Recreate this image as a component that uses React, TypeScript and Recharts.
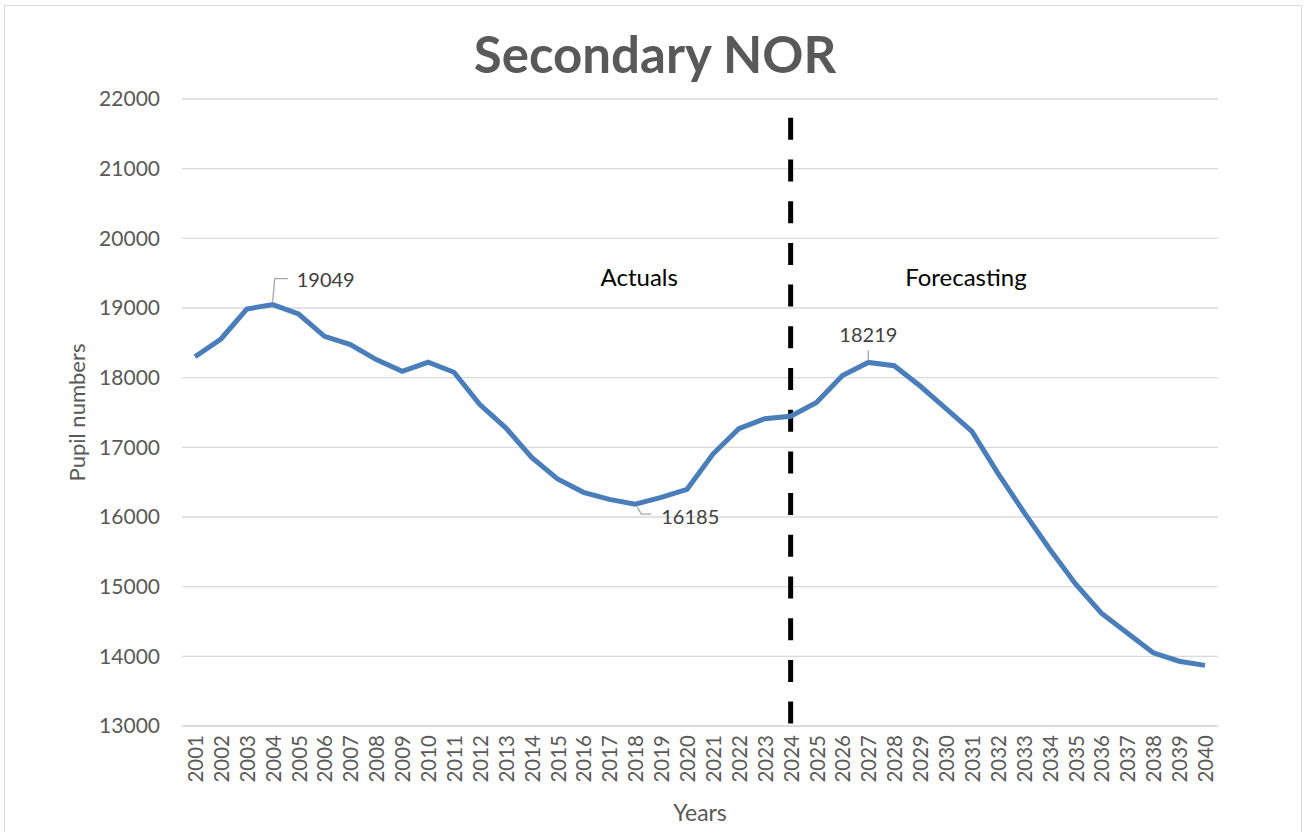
import React from "react";
import {
  CartesianGrid,
  Label,
  Line,
  LineChart,
  ReferenceDot,
  ReferenceLine,
  XAxis,
  YAxis
} from "recharts";

const years = [
  "2001", "2002", "2003", "2004", "2005", "2006", "2007", "2008", "2009", "2010",
  "2011", "2012", "2013", "2014", "2015", "2016", "2017", "2018", "2019", "2020",
  "2021", "2022", "2023", "2024", "2025", "2026", "2027", "2028", "2029", "2030",
  "2031", "2032", "2033", "2034", "2035", "2036", "2037", "2038", "2039", "2040"
];

const pupils = [
  18300, 18555, 18985, 19049, 18914, 18594, 18475, 18260, 18092, 18221,
  18078, 17614, 17280, 16856, 16546, 16354, 16253, 16185, 16282, 16397,
  16904, 17268, 17411, 17446, 17643, 18030, 18219, 18172, 17880, 17557,
  17230, 16630, 16074, 15540, 15040, 14620, 14335, 14050, 13930, 13870
];

const yTicks = [13000, 14000, 15000, 16000, 17000, 18000, 19000, 20000, 21000, 22000];

// years that get a data label with a leader line
const labelledYears = ["2004", "2018", "2027"];

const splitYear = "2024";

const data = years.map((year, i) => ({ year, pupils: pupils[i] }));

const FONT = "Lato, 'Open Sans', sans-serif";

const XTick = ({ x, y, payload }: any) => (
  <text
    x={x}
    y={y}
    transform={`rotate(-90 ${x} ${y})`}
    textAnchor="end"
    dominantBaseline="central"
    fill="#595959"
    fontSize={20.5}
    fontFamily={FONT}
  >
    {payload.value}
  </text>
);

const LabelDot = ({ cx, cy, payload, index }: any) => {
  if (!labelledYears.includes(payload.year)) return <g key={index} />;
  const gray = "#A6A6A6";
  if (payload.year === "2004") {
    return (
      <g key={index}>
        <path d={`M${cx},${cy - 3} L${cx + 2},${cy - 26} L${cx + 15},${cy - 26}`} stroke={gray} fill="none" strokeWidth={1.3} />
        <text x={cx + 24} y={cy - 26} dominantBaseline="central" fill="#404040" fontSize={20} fontFamily={FONT}>
          {payload.pupils}
        </text>
      </g>
    );
  }
  if (payload.year === "2018") {
    return (
      <g key={index}>
        <path d={`M${cx + 2},${cy + 3} L${cx + 6},${cy + 10} L${cx + 16},${cy + 10}`} stroke={gray} fill="none" strokeWidth={1.3} />
        <text x={cx + 26} y={cy + 12} dominantBaseline="central" fill="#404040" fontSize={20} fontFamily={FONT}>
          {payload.pupils}
        </text>
      </g>
    );
  }
  return (
    <g key={index}>
      <path d={`M${cx},${cy - 2} L${cx},${cy - 12}`} stroke={gray} fill="none" strokeWidth={1.3} />
      <text x={cx} y={cy - 28} textAnchor="middle" dominantBaseline="central" fill="#404040" fontSize={20} fontFamily={FONT}>
        {payload.pupils}
      </text>
    </g>
  );
};

const YTitle = ({ viewBox }: any) => {
  const x = viewBox.x - 46;
  const y = viewBox.y + viewBox.height / 2;
  return (
    <text
      x={x}
      y={y}
      transform={`rotate(-90 ${x} ${y})`}
      textAnchor="middle"
      dominantBaseline="central"
      fill="#595959"
      fontSize={22}
      fontFamily={FONT}
    >
      Pupil numbers
    </text>
  );
};

export default function App() {
  return (
    <div style={{ position: "absolute", left: 0, top: 0, width: 1307, height: 832, background: "#fff" }}>
      <div
        style={{
          position: "absolute",
          left: 4,
          top: 5,
          width: 1298,
          height: 830,
          border: "1px solid #D9D9D9",
          boxSizing: "border-box"
        }}
      />
      <div
        style={{
          position: "absolute",
          left: 0,
          width: 1310,
          top: 25,
          textAlign: "center",
          fontFamily: FONT,
          fontWeight: 700,
          fontSize: 51,
          color: "#595959",
          lineHeight: "58px"
        }}
      >
        Secondary NOR
      </div>
      <div style={{ position: "absolute", left: 0, top: 0 }}>
        <LineChart
          width={1307}
          height={832}
          data={data}
          margin={{ top: 99, right: 89, bottom: 46, left: 122 }}
        >
          <CartesianGrid vertical={false} stroke="#D9D9D9" strokeWidth={1.3} />
          <XAxis
            dataKey="year"
            interval={0}
            height={60}
            padding={{ left: 13, right: 13 }}
            axisLine={{ stroke: "#D9D9D9", strokeWidth: 1.3 }}
            tickLine={false}
            tickSize={0}
            tickMargin={9}
            tick={<XTick />}
          >
            <Label
              value="Years"
              position="bottom"
              offset={19}
              fill="#595959"
              fontSize={23}
              fontFamily={FONT}
            />
          </XAxis>
          <YAxis
            width={60}
            domain={[13000, 22000]}
            ticks={yTicks}
            interval={0}
            axisLine={false}
            tickLine={false}
            tickSize={0}
            tickMargin={22}
            tick={{ fill: "#595959", fontSize: 21, fontFamily: FONT }}
          >
            <Label content={<YTitle />} />
          </YAxis>
          <ReferenceLine
            segment={[
              { x: splitYear, y: 21730 },
              { x: splitYear, y: 13000 }
            ]}
            stroke="#000"
            strokeWidth={5}
            strokeDasharray="22 19.7"
          />
          <ReferenceDot
            x="2018"
            y={19445}
            r={0}
            shape={() => <g />}
            label={{ value: "Actuals", position: "center", dx: 4, fill: "#000", fontSize: 24, fontFamily: FONT }}
          />
          <ReferenceDot
            x="2031"
            y={19445}
            r={0}
            shape={() => <g />}
            label={{ value: "Forecasting", position: "center", dx: -6, fill: "#000", fontSize: 24, fontFamily: FONT }}
          />
          <Line
            type="linear"
            dataKey="pupils"
            stroke="#4A7EBB"
            strokeWidth={5}
            dot={<LabelDot />}
            activeDot={false}
            isAnimationActive={false}
          />
        </LineChart>
      </div>
    </div>
  );
}
